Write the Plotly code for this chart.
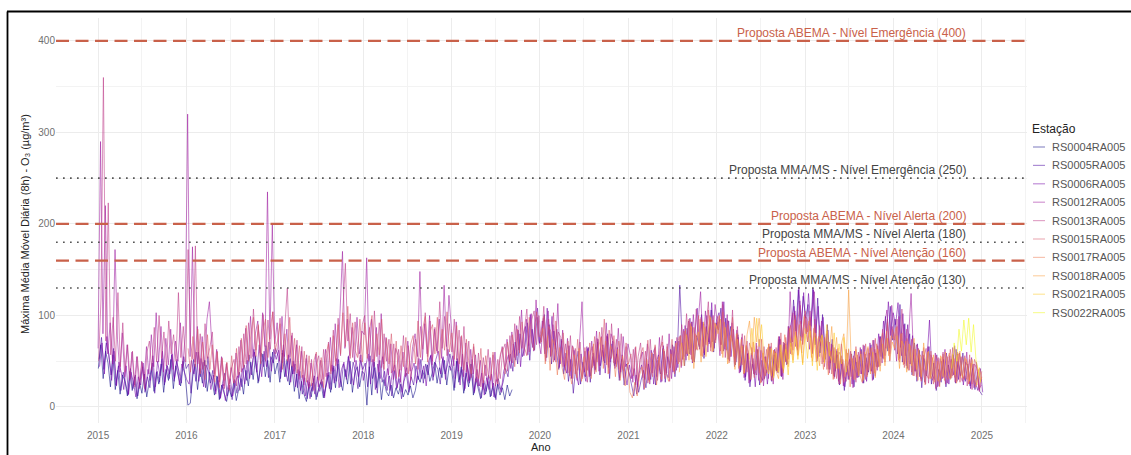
import pandas as pd
import plotly.graph_objects as go

# ---------------------------------------------------------------------------
# Daily-max 8h moving average of O3 (ug/m3) per monitoring station,
# sampled every 10 days (each station on its own sampling day).
# ---------------------------------------------------------------------------
STATIONS = ["RS0004RA005", "RS0005RA005", "RS0006RA005", "RS0012RA005", "RS0013RA005",
            "RS0015RA005", "RS0017RA005", "RS0018RA005", "RS0021RA005", "RS0022RA005"]
COLORS = ["#0D0887", "#47039F", "#7301A8", "#9C179E", "#BD3786",
          "#D8576B", "#ED7953", "#FA9E3B", "#FDC926", "#F0F921"]
START_DATES = ["2015-01-02", "2015-01-05", "2015-01-07", "2015-01-01", "2015-01-03",
               "2016-01-08", "2020-01-03", "2021-07-30", "2022-05-16", "2024-08-29"]
STEP_DAYS = 10

rs0004 = [
    42, 68, 31, 61, 48, 22, 57, 19, 40, 14, 35, 28, 12, 39, 18, 33, 9, 27, 15, 36, 11, 30, 44, 17, 38, 25, 47, 16, 41, 29, 52, 20, 45, 34, 23, 50, 31,
    2, 4, 33, 47, 19, 42, 26, 51, 17, 38, 29, 13, 34, 8, 24, 15, 6, 21, 11, 28, 7, 19, 31, 14, 40, 23, 49, 30, 56, 26, 44, 58, 33, 51, 27, 60, 36,
    48, 27, 59, 33, 52, 24, 45, 17, 36, 9, 28, 14, 6, 25, 11, 31, 8, 19, 27, 10, 22, 35, 16, 43, 21, 47, 29, 18, 41, 25, 50, 16, 37, 44, 22, 39,
    36, 2, 44, 13, 49, 21, 38, 8, 30, 17, 12, 24, 10, 21, 14, 25, 11, 19, 13, 23, 10, 18, 34, 27, 40, 31, 46, 28, 37, 49, 26, 43, 32, 51, 24, 45,
    41, 18, 50, 27, 44, 15, 37, 22, 47, 13, 31, 20, 9, 26, 14, 28, 11, 23, 10, 25, 13, 21, 8, 24, 12, 19,
]
rs0005 = [
    52, 76, 41, 70, 58, 35, 64, 24, 45, 18, 38, 27, 13, 42, 20, 35, 12, 29, 44, 16, 33, 21, 48, 15, 39, 27, 53, 24, 46, 31, 57, 28, 50, 39, 26, 55, 42,
    47, 15, 52, 28, 60, 33, 49, 21, 55, 26, 40, 17, 33, 9, 26, 37, 12, 24, 8, 30, 15, 38, 22, 46, 29, 57, 35, 63, 42, 28, 59, 44, 67, 32, 55, 48, 64,
    55, 31, 62, 40, 28, 53, 36, 47, 21, 39, 14, 32, 9, 27, 17, 34, 11, 23, 30, 12, 26, 38, 19, 45, 28, 52, 22, 47, 33, 55, 25, 49, 38, 20, 51, 41,
    48, 22, 56, 31, 43, 15, 51, 27, 39, 18, 34, 12, 40, 20, 31, 9, 28, 37, 16, 33, 24, 45, 30, 52, 26, 47, 35, 56, 29, 48, 41, 25, 53, 36, 46, 58,
    45, 21, 53, 30, 41, 18, 49, 26, 37, 15, 33, 22, 10, 29, 17, 35, 12, 26, 8, 31, 19, 27, 42, 33, 58, 39, 71, 47, 80, 55, 66, 92, 51, 85, 62, 98, 70,
    78, 101, 54, 90, 47, 83, 62, 41, 74, 36, 59, 28, 52, 15, 44, 61, 25, 49, 33, 64, 27, 55, 40, 71, 35, 62, 48, 77, 31, 69, 45, 58, 29, 52, 24, 47, 38,
    24, 12, 35, 16, 29, 40, 21, 47, 30, 58, 24, 51, 36, 64, 27, 55, 43, 68, 33, 60, 133, 72, 45, 86, 58, 93, 49, 78, 66, 101, 53, 88, 71, 106, 60, 92,
    84, 108, 61, 97, 52, 88, 70, 46, 79, 38, 66, 29, 58, 22, 47, 35, 63, 24, 51, 31, 42, 66, 28, 57, 39, 74, 33, 68, 50, 88, 66, 117, 83, 128, 72, 121, 97,
    112, 76, 130, 68, 119, 59, 101, 52, 90, 41, 74, 33, 61, 24, 52, 18, 45, 30, 58, 22, 49, 33, 63, 26, 54, 38, 68, 30, 59, 44, 77, 53, 99, 61, 110, 73,
    96, 58, 112, 49, 91, 42, 80, 35, 70, 28, 62, 21, 53, 34, 66, 25, 48, 18, 41, 27, 52, 22, 46, 31, 57, 26, 50, 34, 59, 28, 47, 23, 42, 19, 38, 17, 13,
]
rs0006 = [
    44, 70, 36, 77, 52, 29, 61, 23, 49, 37, 19, 45, 14, 38, 27, 11, 33, 24, 48, 18, 41, 29, 56, 22, 50, 34, 61, 27, 45, 36, 58, 31, 52, 24, 47, 39, 30,
    25, 51, 36, 60, 28, 53, 22, 46, 39, 19, 35, 14, 29, 10, 25, 7, 22, 31, 12, 26, 34, 18, 42, 25, 51, 31, 45, 60, 38, 68, 33, 61, 44, 71, 39, 63, 52,
    62, 38, 68, 33, 57, 27, 50, 22, 41, 18, 35, 12, 29, 9, 26, 14, 33, 17, 28, 10, 37, 20, 46, 26, 53, 21, 41, 49, 30, 56, 37, 24, 51, 33, 57, 29,
    44, 58, 25, 52, 19, 47, 31, 55, 23, 42, 18, 38, 46, 21, 41, 16, 34, 43, 20, 39, 48, 26, 53, 31, 45, 23, 50, 57, 33, 52, 61, 36, 55, 30, 63, 40,
    56, 31, 50, 24, 58, 20, 46, 29, 52, 17, 41, 23, 37, 13, 32, 19, 36, 11, 30, 24, 16, 39, 47, 57, 42, 69, 51, 84, 44, 77, 88, 57, 101, 65, 92, 108, 69,
    94, 58, 108, 65, 99, 51, 85, 43, 72, 47, 37, 67, 31, 62, 35, 24, 58, 39, 28, 65, 34, 59, 41, 74, 45, 68, 37, 80, 49, 72, 42, 65, 32, 57, 38, 24, 46,
    31, 42, 14, 37, 46, 19, 53, 29, 62, 25, 48, 57, 27, 67, 39, 32, 63, 38, 72, 43, 78, 52, 89, 56, 97, 48, 83, 108, 63, 93, 57, 100, 69, 114, 64, 95,
    103, 68, 115, 62, 94, 55, 85, 49, 76, 40, 68, 33, 59, 28, 53, 22, 62, 35, 29, 55, 25, 50, 32, 63, 40, 77, 34, 70, 46, 82, 94, 110, 76, 131, 91, 125, 80,
    124, 88, 128, 81, 110, 67, 98, 57, 84, 48, 68, 39, 57, 30, 49, 22, 43, 52, 25, 61, 32, 55, 36, 67, 28, 59, 39, 73, 44, 80, 55, 94, 64, 115, 78, 103,
    90, 114, 65, 102, 56, 90, 47, 78, 39, 69, 33, 61, 27, 53, 95, 36, 30, 57, 23, 50, 32, 59, 25, 52, 35, 63, 30, 55, 24, 49, 43, 20, 47, 26, 18, 42, 16,
]
rs0012 = [
    64, 290, 80, 220, 58, 92, 47, 172, 74, 38, 81, 33, 68, 29, 60, 24, 55, 20, 50, 31, 66, 36, 79, 44, 103, 49, 88, 38, 75, 46, 85, 41, 72, 50, 92, 43, 80,
    320, 55, 175, 49, 88, 39, 77, 45, 96, 115, 68, 36, 63, 28, 55, 23, 47, 20, 43, 26, 59, 32, 73, 41, 86, 50, 99, 55, 80, 94, 59, 103, 66, 235, 74, 200, 69,
    92, 50, 99, 55, 85, 41, 78, 36, 68, 30, 61, 24, 53, 20, 48, 27, 58, 22, 51, 30, 63, 34, 76, 39, 91, 47, 104, 170, 64, 96, 56, 87, 49, 98, 58, 83,
    79, 163, 50, 96, 44, 87, 38, 102, 47, 76, 35, 69, 30, 64, 56, 27, 60, 33, 72, 39, 66, 80, 55, 148, 51, 91, 58, 100, 46, 85, 61, 96, 53, 133, 66, 122,
    86, 45, 93, 39, 77, 33, 70, 28, 63, 36, 57, 23, 51, 19, 46, 25, 54, 21, 60, 28, 52, 66, 41, 74, 49, 82, 54, 89, 62, 106, 56, 96, 67, 102, 61, 117, 74,
    58, 97, 50, 105, 55, 90, 63, 113, 47, 84, 40, 75, 34, 67, 59, 29, 70, 115, 38, 66, 33, 72, 45, 83, 39, 77, 50, 92, 43, 80, 71, 47, 86, 38, 77, 44, 69,
    56, 27, 65, 22, 52, 60, 30, 69, 25, 57, 64, 33, 76, 28, 61, 37, 80, 31, 66, 40, 72, 43, 85, 51, 94, 57, 101, 62, 90, 126, 66, 105, 60, 96, 71, 112,
    90, 56, 115, 63, 101, 50, 92, 44, 84, 37, 76, 32, 67, 26, 59, 36, 70, 29, 62, 23, 55, 31, 66, 25, 60, 37, 74, 30, 69, 47, 126, 71, 105, 62, 116, 76, 101,
    96, 63, 104, 126, 71, 55, 94, 49, 80, 41, 69, 34, 63, 28, 56, 23, 52, 30, 61, 21, 54, 32, 65, 26, 58, 35, 70, 29, 63, 40, 77, 48, 89, 106, 64, 111,
    84, 50, 99, 56, 90, 45, 79, 124, 54, 39, 64, 31, 57, 25, 66, 34, 29, 59, 22, 53, 31, 63, 26, 56, 34, 67, 28, 59, 36, 30, 60, 25, 54, 21, 49, 19, 24,
]
rs0013 = [
    50, 118, 360, 72, 223, 57, 98, 50, 125, 44, 92, 38, 68, 31, 61, 22, 55, 27, 49, 20, 60, 72, 40, 87, 49, 100, 53, 82, 45, 94, 58, 79, 50, 125, 54, 88, 49,
    172, 70, 52, 176, 47, 80, 41, 91, 53, 65, 82, 33, 61, 27, 54, 20, 48, 25, 44, 52, 23, 66, 38, 80, 47, 92, 53, 107, 62, 88, 55, 101, 50, 95, 63, 104, 58,
    63, 97, 48, 87, 130, 54, 81, 39, 73, 34, 66, 28, 57, 22, 52, 18, 47, 56, 25, 63, 33, 71, 39, 84, 50, 97, 56, 109, 157, 72, 102, 54, 93, 65, 50, 90,
    100, 58, 87, 49, 105, 55, 92, 43, 80, 50, 74, 37, 69, 31, 63, 40, 78, 34, 67, 29, 60, 74, 41, 88, 63, 103, 55, 94, 50, 87, 59, 115, 64, 99, 56, 91,
    60, 96, 51, 84, 44, 88, 38, 72, 32, 66, 27, 59, 22, 54, 34, 63, 29, 57, 23, 52, 31, 61, 69, 39, 78, 48, 91, 56, 99, 64, 86, 107, 60, 95, 105, 68, 100,
    71, 110, 63, 96, 56, 103, 49, 82, 76, 44, 69, 37, 78, 31, 64, 40, 71, 33, 61, 27, 55, 66, 36, 75, 45, 87, 53, 78, 37, 91, 48, 74, 41, 80, 32, 66, 39,
    31, 63, 24, 55, 70, 32, 61, 26, 74, 37, 66, 29, 57, 78, 35, 69, 28, 62, 39, 76, 49, 90, 55, 102, 63, 93, 50, 107, 68, 98, 59, 92, 115, 65, 100, 73,
    99, 68, 112, 54, 95, 61, 106, 47, 88, 53, 80, 39, 72, 30, 65, 41, 35, 74, 27, 66, 37, 69, 29, 62, 40, 77, 34, 71, 49, 88, 58, 103, 66, 96, 111, 69, 98,
    71, 105, 58, 96, 50, 89, 78, 44, 72, 37, 65, 31, 58, 25, 69, 34, 28, 63, 33, 56, 27, 60, 36, 68, 30, 64, 39, 73, 34, 67, 45, 85, 56, 96, 50, 88,
    62, 96, 53, 107, 47, 85, 40, 74, 34, 68, 59, 29, 53, 64, 26, 57, 49, 20, 54, 30, 60, 25, 55, 32, 65, 27, 58, 35, 28, 56, 23, 52, 19, 47, 42, 17, 33,
]
rs0015 = [
    64, 38, 77, 44, 85, 36, 71, 30, 79, 41, 68, 27, 60, 21, 53, 29, 49, 18, 56, 26, 64, 35, 75, 43, 89, 50, 82, 98, 55, 90, 47, 84, 96, 54, 87, 104, 62,
    73, 91, 41, 80, 50, 98, 44, 75, 37, 67, 32, 61, 27, 56, 23, 51, 60, 29, 54, 21, 58, 69, 36, 78, 45, 90, 58, 103, 66, 110, 53, 92, 62, 54, 96, 49,
    92, 53, 85, 100, 50, 80, 57, 96, 41, 75, 47, 80, 39, 72, 33, 67, 44, 76, 36, 69, 78, 47, 94, 54, 86, 99, 49, 82, 90, 58, 98, 51, 85, 62, 104, 60,
    81, 52, 89, 47, 78, 40, 74, 49, 36, 69, 42, 31, 64, 26, 56, 35, 30, 60, 37, 25, 57, 65, 36, 71, 50, 79, 44, 85, 59, 93, 65, 56, 98, 71, 62, 104, 77,
    78, 99, 54, 88, 82, 49, 94, 58, 51, 81, 45, 72, 39, 66, 36, 74, 43, 31, 65, 40, 70, 43, 77, 49, 82, 55, 96, 46, 84, 53, 78, 44, 72, 50, 39, 70, 47,
    58, 34, 66, 28, 57, 65, 36, 73, 44, 33, 68, 40, 63, 71, 31, 66, 42, 74, 36, 67, 77, 45, 83, 58, 96, 52, 87, 63, 100, 56, 91, 68, 106, 61, 95, 70,
    93, 61, 104, 66, 90, 55, 98, 50, 81, 58, 46, 78, 38, 70, 60, 32, 67, 37, 74, 30, 63, 40, 70, 34, 65, 43, 81, 39, 76, 52, 89, 62, 100, 57, 94, 68, 105,
    82, 98, 59, 90, 53, 84, 47, 76, 41, 71, 36, 65, 31, 60, 55, 27, 63, 34, 58, 30, 66, 37, 61, 32, 69, 40, 64, 36, 75, 43, 70, 81, 49, 92, 58, 85,
    73, 88, 49, 81, 43, 75, 68, 38, 63, 33, 58, 28, 65, 36, 31, 61, 25, 56, 50, 29, 58, 36, 30, 63, 38, 32, 60, 27, 55, 34, 30, 57, 25, 52, 45, 21, 39,
]
rs0017 = [
    70, 86, 47, 78, 40, 74, 67, 35, 65, 42, 30, 62, 37, 25, 57, 32, 64, 28, 55, 34, 61, 31, 69, 38, 65, 76, 42, 72, 36, 67, 60, 33, 63, 29, 56, 23, 48,
    16, 10, 27, 12, 35, 44, 20, 52, 27, 59, 48, 24, 55, 30, 63, 36, 28, 58, 39, 70, 47, 78, 52, 85, 58, 91, 49, 80, 62, 96, 55, 87, 67, 100, 60, 92,
    85, 100, 58, 93, 64, 48, 87, 55, 80, 42, 74, 36, 67, 60, 30, 71, 40, 63, 26, 59, 34, 65, 41, 29, 61, 38, 68, 43, 79, 50, 86, 57, 95, 64, 90, 59, 99,
    80, 94, 54, 86, 49, 77, 71, 41, 66, 35, 61, 30, 55, 64, 25, 52, 33, 59, 22, 53, 30, 57, 35, 27, 60, 33, 54, 65, 37, 69, 44, 75, 52, 83, 56, 78,
    74, 87, 51, 80, 46, 72, 40, 67, 34, 63, 29, 57, 52, 24, 60, 31, 54, 27, 50, 22, 55, 29, 51, 59, 32, 53, 26, 58, 35, 30, 52, 25, 48, 29, 22, 41, 27,
]
rs0018 = [
    38, 70, 45, 79, 51, 88, 42, 75, 82, 49, 93, 55, 85, 98, 61, 91,
    80, 96, 54, 87, 47, 78, 70, 41, 74, 45, 67, 37, 79, 94, 57, 98, 71, 97, 62, 50, 41, 69, 34, 62, 39, 31, 60, 37, 68, 44, 75, 51, 82, 56, 77, 48, 86,
    72, 89, 50, 81, 74, 45, 78, 51, 83, 56, 88, 48, 76, 42, 69, 80, 50, 128, 55, 41, 63, 34, 58, 29, 55, 66, 36, 60, 32, 63, 39, 69, 45, 75, 51, 71,
    64, 78, 42, 72, 66, 38, 69, 45, 75, 41, 63, 33, 70, 40, 61, 31, 57, 36, 28, 56, 33, 60, 38, 30, 58, 35, 55, 61, 32, 54, 48, 28, 52, 31, 24, 43, 30,
]
rs0021 = [
    52, 86, 60, 97, 66, 90, 54, 43, 36, 64, 32, 59, 38, 68, 41, 63, 35, 70, 48, 78, 52, 73, 46, 80,
    53, 83, 45, 76, 40, 70, 79, 48, 90, 57, 51, 81, 42, 69, 47, 76, 38, 64,
]
rs0022 = [42, 70, 50, 85, 61, 95, 68, 97, 60, 90, 52, 40, 27]

SERIES = [rs0004, rs0005, rs0006, rs0012, rs0013, rs0015, rs0017, rs0018, rs0021, rs0022]

# Reference levels (ug/m3)
ABEMA_LEVELS = [400, 200, 160]
ABEMA_LABELS = ["Proposta ABEMA - Nível Emergência (400)",
                "Proposta ABEMA - Nível Alerta (200)",
                "Proposta ABEMA - Nível Atenção (160)"]
MMA_LEVELS = [250, 180, 130]
MMA_LABELS = ["Proposta MMA/MS - Nível Emergência (250)",
              "Proposta MMA/MS - Nível Alerta (180)",
              "Proposta MMA/MS - Nível Atenção (130)"]
LABEL_DATE = "2024-11-04"

# ---------------------------------------------------------------------------
W, H = 1131, 455
PL, PR, PT, PB = 56, 1027, 18, 423          # panel box in pixels
FONT = "Liberation Sans, Arial, sans-serif"
ABEMA_COLOR = "#c9614a"
MMA_COLOR = "#444444"
MMA_LINE = "#555555"
LINE_ALPHA = 0.7


def rgba(hex_color, a):
    h = hex_color.lstrip("#")
    r, g, b = int(h[0:2], 16), int(h[2:4], 16), int(h[4:6], 16)
    return f"rgba({r},{g},{b},{a})"


def px_x(px):
    return (px - PL) / (PR - PL)


def px_y(py):
    return (PB - py) / (PB - PT)


fig = go.Figure()

for name, color, start, values in zip(STATIONS, COLORS, START_DATES, SERIES):
    dates = pd.date_range(start=start, periods=len(values), freq=f"{STEP_DAYS}D")
    fig.add_trace(go.Scatter(
        x=dates, y=values, mode="lines", name=name, showlegend=False,
        line=dict(color=rgba(color, LINE_ALPHA), width=0.8),
        hoverinfo="skip",
    ))

for level, label in zip(MMA_LEVELS, MMA_LABELS):
    fig.add_hline(y=level, line=dict(color=MMA_LINE, width=1.7, dash="1.7px,5.3px"))
    fig.add_annotation(x=LABEL_DATE, y=level, text=label, showarrow=False,
                       xanchor="right", yanchor="bottom", yshift=-1,
                       font=dict(family=FONT, size=12, color=MMA_COLOR))

for level, label in zip(ABEMA_LEVELS, ABEMA_LABELS):
    fig.add_hline(y=level, line=dict(color=ABEMA_COLOR, width=2.2, dash="13px,6.5px"))
    fig.add_annotation(x=LABEL_DATE, y=level, text=label, showarrow=False,
                       xanchor="right", yanchor="bottom", yshift=-1,
                       font=dict(family=FONT, size=12, color=ABEMA_COLOR))

# Axis titles
fig.add_annotation(xref="paper", yref="paper", x=px_x(25), y=px_y(224),
                   text="Máxima Média Móvel Diária (8h) - O₃ (µg/m³)",
                   textangle=-90, showarrow=False, xanchor="center", yanchor="middle",
                   font=dict(family=FONT, size=11, color="#222222"))
fig.add_annotation(xref="paper", yref="paper", x=px_x(541), y=px_y(447),
                   text="Ano", showarrow=False, xanchor="center", yanchor="middle",
                   font=dict(family=FONT, size=11, color="#222222"))

# Legend drawn beside the panel
fig.add_annotation(xref="paper", yref="paper", x=px_x(1030), y=px_y(129),
                   text="Estação", showarrow=False, xanchor="left", yanchor="middle",
                   font=dict(family=FONT, size=12, color="#222222"))
for j, (name, color) in enumerate(zip(STATIONS, COLORS)):
    yy = 147 + 18.4 * j
    fig.add_shape(type="line", xref="paper", yref="paper",
                  x0=px_x(1033), x1=px_x(1045), y0=px_y(yy), y1=px_y(yy),
                  line=dict(color=rgba(color, 0.45), width=1.2))
    fig.add_annotation(xref="paper", yref="paper", x=px_x(1050), y=px_y(yy),
                       text=name, showarrow=False, xanchor="left", yanchor="middle",
                       font=dict(family=FONT, size=11, color="#555555"))

# Outer frame (top and left edges)
fig.add_shape(type="line", xref="paper", yref="paper",
              x0=px_x(7), x1=px_x(1131), y0=px_y(11.5), y1=px_y(11.5),
              line=dict(color="black", width=1.8))
fig.add_shape(type="line", xref="paper", yref="paper",
              x0=px_x(7.5), x1=px_x(7.5), y0=px_y(11.5), y1=px_y(455),
              line=dict(color="black", width=1.8))

GRID = "#ececec"
fig.update_layout(
    width=W, height=H,
    margin=dict(l=PL, r=W - PR, t=PT, b=H - PB, pad=0),
    paper_bgcolor="white", plot_bgcolor="white",
    font=dict(family=FONT, size=10, color="#707070"),
    showlegend=False,
    xaxis=dict(
        type="date", range=["2014-07-11", "2025-07-06"],
        tick0="2015-01-01", dtick="M12", tickformat="%Y",
        showgrid=True, gridcolor=GRID, gridwidth=1,
        minor=dict(dtick="M6", tick0="2015-01-01", showgrid=True, gridcolor="#f3f3f3", gridwidth=0.6),
        zeroline=False, showline=False, ticks="", ticklabelstandoff=5,
        tickfont=dict(family=FONT, size=10, color="#707070"),
    ),
    yaxis=dict(
        range=[-17.5, 425], tick0=0, dtick=100,
        showgrid=True, gridcolor=GRID, gridwidth=1,
        minor=dict(dtick=50, showgrid=True, gridcolor="#f3f3f3", gridwidth=0.6),
        zeroline=False, showline=False, ticks="",
        tickfont=dict(family=FONT, size=10, color="#707070"),
    ),
)

fig.write_html("out.html")
